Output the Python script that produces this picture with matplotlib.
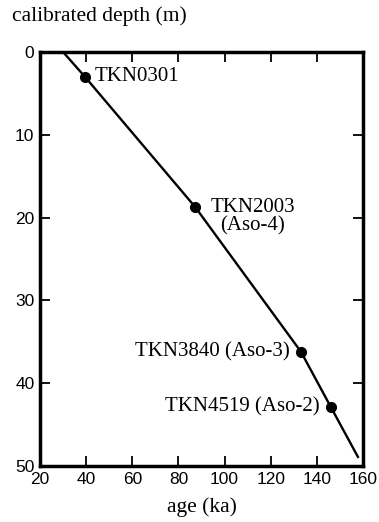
import matplotlib
matplotlib.use("Agg")
import matplotlib.pyplot as plt

# tephra / sample points
SAMPLES = ["TKN0301", "TKN2003\n(Aso-4)", "TKN3840 (Aso-3)", "TKN4519 (Aso-2)"]
AGE = [39.5, 87.2, 133.1, 146.1]
DEPTH = [3.0, 18.7, 36.2, 42.9]

# age-depth curve
LINE_AGE = [30.0, 39.5, 87.2, 133.1, 146.1, 157.8]
LINE_DEPTH = [0.0, 3.0, 18.7, 36.2, 42.9, 48.9]

XTICKS = [20, 40, 60, 80, 100, 120, 140, 160]
YTICKS = [0, 10, 20, 30, 40, 50]

serif = ["Liberation Serif", "DejaVu Serif"]
sans = ["Liberation Sans", "DejaVu Sans"]

fig = plt.figure(figsize=(3.79, 5.22), dpi=100)
ax = fig.add_axes([40 / 379, 1 - 466 / 522, 323 / 379, 414 / 522])

ax.plot(LINE_AGE, LINE_DEPTH, color="black", linewidth=1.7)
ax.plot(AGE, DEPTH, "o", color="black", markersize=7)

ax.set_xlim(20, 160)
ax.set_ylim(50, 0)
ax.set_xticks(XTICKS)
ax.set_yticks(YTICKS)
ax.tick_params(direction="in", top=True, right=True, length=7, width=1.3,
               labelsize=12.5, pad=4)
for lab in ax.get_xticklabels() + ax.get_yticklabels():
    lab.set_family(sans)
for s in ax.spines.values():
    s.set_linewidth(2.5)

# labels next to the points
offsets = [(7, 0), (11, -7), (-8, 0), (-8, 0)]
aligns = ["left", "left", "right", "right"]
for name, x, y, off, ha in zip(SAMPLES, AGE, DEPTH, offsets, aligns):
    ax.annotate(name, (x, y), xytext=off, textcoords="offset points",
                ha=ha, va="center", fontsize=15, family=serif,
                multialignment="center", linespacing=0.95)

fig.text(12 / 379, 1 - 16 / 522, "calibrated depth (m)", family=serif,
         fontsize=15.5, ha="left", va="center")
fig.text(202 / 379, 1 - 507 / 522, "age (ka)", family=serif,
         fontsize=15.5, ha="center", va="center")

fig.savefig("out.png", dpi=100)
